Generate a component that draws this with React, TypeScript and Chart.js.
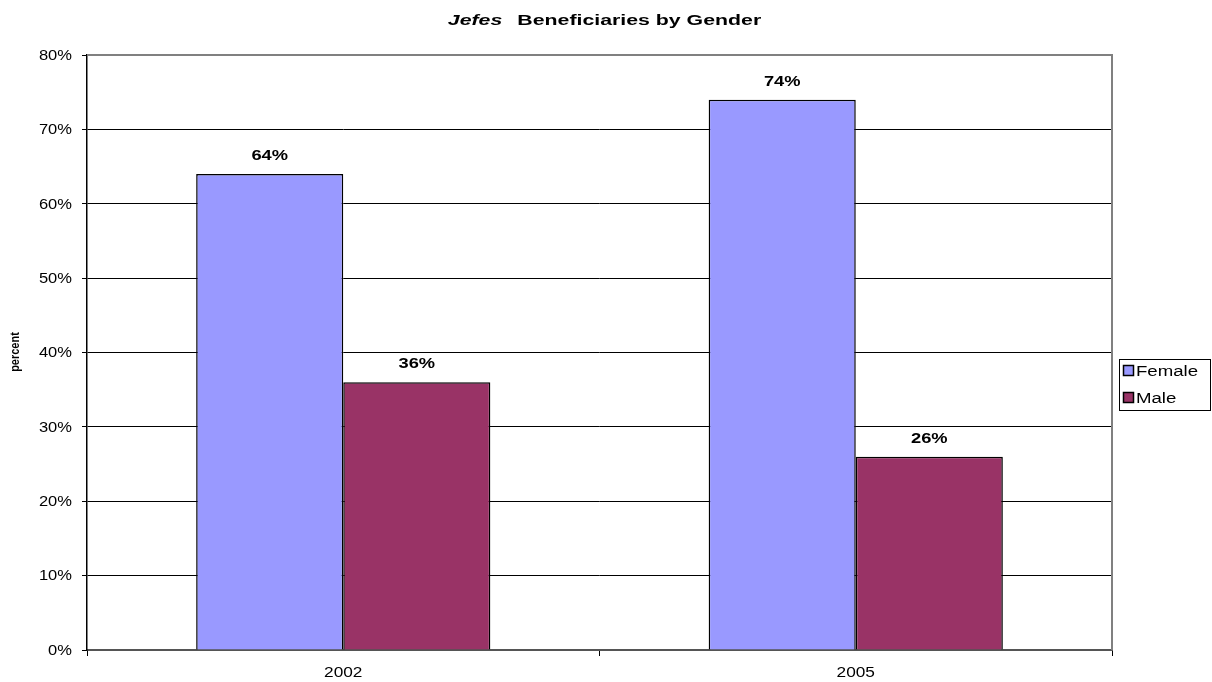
import React, { useEffect, useRef } from "react";
import { Chart, registerables } from "chart.js";

Chart.register(...registerables);

const categories = ["2002", "2005"];
const femaleValues = [64, 74];
const maleValues = [36, 26];
const seriesLabels = ["Female", "Male"];
const seriesColors = ["#9999FF", "#993366"];
const yTicks = [0, 10, 20, 30, 40, 50, 60, 70, 80];
const titleItalic = "Jefes";
const titleRest = "Beneficiaries by Gender";
const yAxisTitle = "percent";

const FONT = "'Liberation Sans', Arial, sans-serif";

function drawStretched(
  ctx: CanvasRenderingContext2D,
  text: string,
  x: number,
  y: number,
  font: string,
  sx: number,
  align: CanvasTextAlign,
  baseline: CanvasTextBaseline = "middle"
) {
  ctx.save();
  ctx.font = font;
  ctx.fillStyle = "#000";
  ctx.textAlign = align;
  ctx.textBaseline = baseline;
  ctx.translate(x, y);
  ctx.scale(sx, 1);
  ctx.fillText(text, 0, 0);
  ctx.restore();
}

const textPlugin = {
  id: "texts",
  afterDraw(chart: any) {
    const ctx: CanvasRenderingContext2D = chart.ctx;
    const area = chart.chartArea;
    // title
    const tSx = 1.42;
    const f1 = `italic bold 15px ${FONT}`;
    const f2 = `bold 15px ${FONT}`;
    ctx.save();
    ctx.font = f1;
    const w1 = ctx.measureText(titleItalic).width * tSx;
    ctx.font = f2;
    const w2 = ctx.measureText(titleRest).width * tSx;
    ctx.restore();
    const gap = 15;
    const total = w1 + gap + w2;
    const cx = (area.left + area.right) / 2 + 5;
    const x0 = cx - total / 2;
    drawStretched(ctx, titleItalic, x0, 25, f1, tSx, "left", "alphabetic");
    drawStretched(ctx, titleRest, x0 + w1 + gap, 25, f2, tSx, "left", "alphabetic");

    // y ticks
    const ys = chart.scales.y;
    yTicks.forEach((v) => {
      drawStretched(ctx, v + "%", 72, ys.getPixelForValue(v) + 1, `14px ${FONT}`, 1.18, "right");
    });
    // x ticks
    const xs = chart.scales.x;
    categories.forEach((c, i) => {
      drawStretched(ctx, c, xs.getPixelForValue(i), 673, `15px ${FONT}`, 1.15, "center");
    });
    // y axis title
    ctx.save();
    ctx.translate(15, 352);
    ctx.rotate(-Math.PI / 2);
    ctx.scale(1, 1.2);
    ctx.font = `bold 11px ${FONT}`;
    ctx.fillStyle = "#000";
    ctx.textAlign = "center";
    ctx.textBaseline = "middle";
    ctx.fillText(yAxisTitle, 0, 0);
    ctx.restore();

    // data labels
    chart.data.datasets.forEach((ds: any, i: number) => {
      const meta = chart.getDatasetMeta(i);
      meta.data.forEach((bar: any, j: number) => {
        drawStretched(ctx, ds.data[j] + "%", bar.x, bar.y - 18, `bold 15px ${FONT}`, 1.22, "center");
      });
    });

    // legend
    ctx.save();
    ctx.strokeStyle = "#000";
    ctx.lineWidth = 1;
    ctx.strokeRect(1119.5, 359.5, 91, 51);
    chart.data.datasets.forEach((ds: any, i: number) => {
      const cy = 371 + i * 27;
      ctx.fillStyle = ds.backgroundColor;
      ctx.fillRect(1123.5, cy - 5.5, 10, 10);
      ctx.strokeStyle = "#000";
      ctx.lineWidth = 1.5;
      ctx.strokeRect(1123.5, cy - 5.5, 10, 10);
    });
    ctx.restore();
    chart.data.datasets.forEach((ds: any, i: number) => {
      const cy = 371 + i * 27;
      drawStretched(ctx, ds.label, 1136, cy + 1, `14px ${FONT}`, 1.33, "left");
    });
  },
};

const borderPlugin = {
  id: "plotBorder",
  beforeDatasetsDraw(chart: any) {
    const { ctx, chartArea } = chart;
    ctx.save();
    ctx.strokeStyle = "#808080";
    ctx.lineWidth = 2;
    ctx.beginPath();
    ctx.moveTo(chartArea.left, chartArea.top);
    ctx.lineTo(chartArea.right, chartArea.top);
    ctx.lineTo(chartArea.right, chartArea.bottom);
    ctx.stroke();
    ctx.restore();
  },
};

export default function App() {
  const ref = useRef<HTMLCanvasElement>(null);
  useEffect(() => {
    if (!ref.current) return;
    const chart = new Chart(ref.current, {
      type: "bar",
      data: {
        labels: categories,
        datasets: [
          {
            label: seriesLabels[0],
            data: femaleValues,
            backgroundColor: seriesColors[0],
            borderColor: "#000",
            borderWidth: 1.5,
            categoryPercentage: 0.574,
            barPercentage: 1,
          },
          {
            label: seriesLabels[1],
            data: maleValues,
            backgroundColor: seriesColors[1],
            borderColor: "#000",
            borderWidth: 1.5,
            categoryPercentage: 0.574,
            barPercentage: 1,
          },
        ],
      },
      options: {
        responsive: false,
        animation: false,
        layout: { padding: { left: 0, top: 55, right: 100, bottom: 0 } },
        plugins: {
          legend: { display: false },
          title: { display: false },
          tooltip: { enabled: false },
        },
        scales: {
          x: {
            offset: true,
            afterFit(scale: any) {
              scale.height = 32;
            },
            grid: {
              offset: true,
              drawOnChartArea: false,
              drawTicks: true,
              tickLength: 6,
              color: "#000",
            },
            border: { display: true, color: "#555", width: 2 },
            ticks: { display: false },
          },
          y: {
            min: 0,
            max: 80,
            afterFit(scale: any) {
              scale.width = 87;
            },
            afterBuildTicks(scale: any) {
              scale.ticks = yTicks.map((v) => ({ value: v }));
            },
            grid: {
              color: "#000",
              lineWidth: 1,
              tickLength: 5,
            },
            border: { display: true, color: "#000", width: 1.5 },
            ticks: { display: false },
          },
        },
      },
      plugins: [borderPlugin, textPlugin],
    });
    return () => chart.destroy();
  }, []);
  return (
    <div style={{ position: "fixed", left: 0, top: 0, width: 1212, height: 682, background: "#fff" }}>
      <canvas ref={ref} width={1212} height={682} />
    </div>
  );
}
